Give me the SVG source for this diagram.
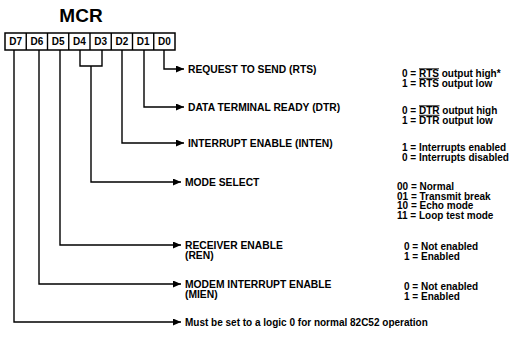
<svg xmlns="http://www.w3.org/2000/svg" width="526" height="345" viewBox="0 0 526 345">
<defs>
<style>
text{font-family:"Liberation Sans",Arial,sans-serif;font-weight:bold;fill:#000;font-size:10px}
.lbl{font-size:10.3px}
.title{font-size:19px;text-anchor:middle}
.bit{text-anchor:middle;font-size:10px}
.box{fill:#fff;stroke:#000;stroke-width:1.5}
.conn{fill:none;stroke:#000;stroke-width:1.4}
.ovl{fill:none;stroke:#000;stroke-width:0.9}
</style>
<marker id="ah" markerWidth="8" markerHeight="7" refX="8" refY="3.5" orient="auto" markerUnits="userSpaceOnUse">
<path d="M0,0 L8,3.5 L0,7 Z" fill="#000"/>
</marker>
</defs>
<rect width="526" height="345" fill="#fff"/>
<g id="title"><text class="title" x="81" y="22">MCR</text></g>
<g id="register">
<rect class="box" x="5" y="33" width="170" height="17"/>
<path class="conn" d="M26.25,33V50M47.5,33V50M68.75,33V50M90,33V50M111.25,33V50M132.5,33V50M153.75,33V50"/>
<text class="bit" x="15.6" y="45">D7</text>
<text class="bit" x="36.9" y="45">D6</text>
<text class="bit" x="58.1" y="45">D5</text>
<text class="bit" x="79.4" y="45">D4</text>
<text class="bit" x="100.6" y="45">D3</text>
<text class="bit" x="121.9" y="45">D2</text>
<text class="bit" x="143.1" y="45">D1</text>
<text class="bit" x="164.4" y="45">D0</text>
</g>
<g id="connectors">
<path class="conn" d="M164,50V69H184" marker-end="url(#ah)"/>
<path class="conn" d="M144,50V107H184" marker-end="url(#ah)"/>
<path class="conn" d="M122,50V143H184" marker-end="url(#ah)"/>
<path class="conn" d="M80,50V66H102V50M91,66V182H181" marker-end="url(#ah)"/>
<path class="conn" d="M60,50V245H181" marker-end="url(#ah)"/>
<path class="conn" d="M39,50V284H181" marker-end="url(#ah)"/>
<path class="conn" d="M14,50V322H181" marker-end="url(#ah)"/>
</g>
<g id="rts">
<text class="lbl" x="188" y="73">REQUEST TO SEND (RTS)</text>
<text x="402" y="77">0 = RTS output high*</text>
<text x="402" y="86.5">1 = RTS output low</text>
<path class="ovl" d="M419,68.8H439M419,78.3H439"/>
</g>
<g id="dtr">
<text class="lbl" x="188" y="111">DATA TERMINAL READY (DTR)</text>
<text x="402" y="114">0 = DTR output high</text>
<text x="402" y="123.5">1 = DTR output low</text>
<path class="ovl" d="M419,105.8H439.5M419,115.3H439.5"/>
</g>
<g id="inten">
<text class="lbl" x="188" y="147">INTERRUPT ENABLE (INTEN)</text>
<text x="402" y="151">1 = Interrupts enabled</text>
<text x="402" y="160.5">0 = Interrupts disabled</text>
</g>
<g id="mode">
<text class="lbl" x="185" y="186">MODE SELECT</text>
<text x="397" y="190">00 = Normal</text>
<text x="397" y="199.5">01 = Transmit break</text>
<text x="397" y="209">10 = Echo mode</text>
<text x="397" y="218.5">11 = Loop test mode</text>
</g>
<g id="ren">
<text class="lbl" x="185" y="249">RECEIVER ENABLE</text>
<text class="lbl" x="185" y="259">(REN)</text>
<text x="404" y="250">0 = Not enabled</text>
<text x="404" y="260">1 = Enabled</text>
</g>
<g id="mien">
<text class="lbl" x="185" y="288">MODEM INTERRUPT ENABLE</text>
<text class="lbl" x="185" y="298">(MIEN)</text>
<text x="404" y="290">0 = Not enabled</text>
<text x="404" y="300">1 = Enabled</text>
</g>
<g id="d7note">
<text x="185" y="326">Must be set to a logic 0 for normal 82C52 operation</text>
</g>
</svg>
